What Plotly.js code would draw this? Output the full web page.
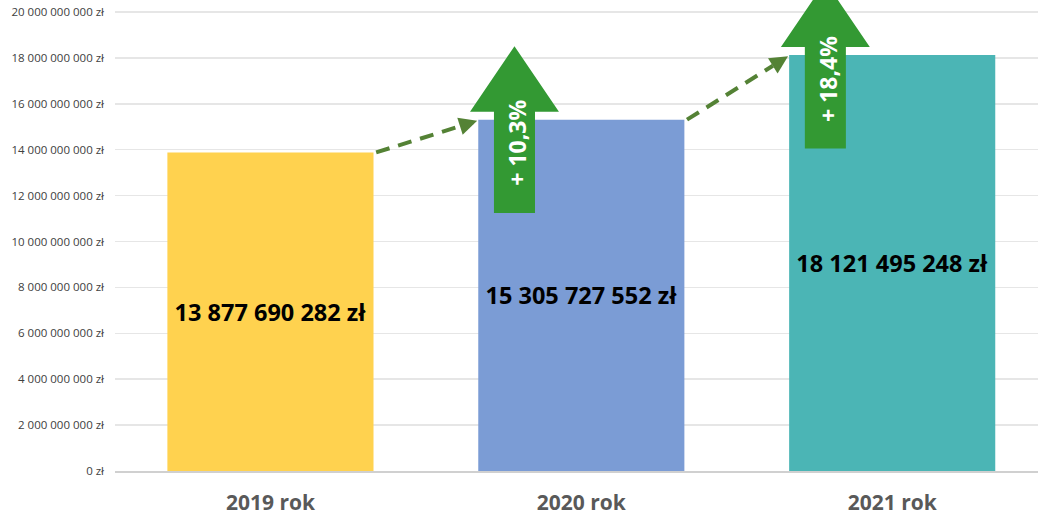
<!DOCTYPE html>
<html><head><meta charset="utf-8">
<script src="https://cdn.plot.ly/plotly-3.0.1.min.js"></script>
<style>html,body{margin:0;padding:0;background:#fff;overflow:hidden}</style>
</head><body><div id="chart" style="width:1038px;height:517px"></div>
<script>
const categories = ['2019 rok', '2020 rok', '2021 rok'];
const values = [13877690282, 15305727552, 18121495248];
const barColors = ['#FFD24F', '#7B9CD5', '#4BB5B5'];
const yTickVals = [0, 2e9, 4e9, 6e9, 8e9, 10e9, 12e9, 14e9, 16e9, 18e9, 20e9];

function fmt(n) { return String(Math.round(n)).replace(/\B(?=(\d{3})+(?!\d))/g, ' '); }

const idx = categories.map((c, i) => i);
const barText = values.map(v => '<b>' + fmt(v) + ' zł</b>');
const yTickText = yTickVals.map(v => fmt(v) + ' zł');

const GREEN = '#339933';
const DASH = '#548235';
const shapes = [];
const annotations = [];

for (let i = 1; i < values.length; i++) {
  const pct = ((values[i] / values[i - 1] - 1) * 100).toFixed(1).replace('.', ',');
  const base = values[i] + 0.35e9;
  const bottom = base - 4.42e9;
  const tip = base + 2.85e9;
  const cx = i - 0.215, sw = 0.066, hw = 0.143;
  shapes.push({
    type: 'path', xref: 'x', yref: 'y', layer: 'above',
    path: `M${cx - sw},${bottom} L${cx - sw},${base} L${cx - hw},${base} L${cx},${tip} L${cx + hw},${base} L${cx + sw},${base} L${cx + sw},${bottom} Z`,
    fillcolor: GREEN, line: {width: 0}
  });
  annotations.push({
    x: cx + 0.01, y: base - 1.37e9, xref: 'x', yref: 'y',
    text: '<b>+ ' + pct + '%</b>', textangle: -90, showarrow: false,
    font: {family: 'Open Sans, sans-serif', size: 23, color: '#ffffff'}
  });
  // dashed connector
  const x0 = i - 1 + 0.34, y0 = values[i - 1];
  const x1 = i - 0.335, y1 = values[i] - 0.05e9;
  const f = 0.85;
  const xm = x0 + (x1 - x0) * f, ym = y0 + (y1 - y0) * f;
  shapes.push({
    type: 'line', xref: 'x', yref: 'y', layer: 'above',
    x0: x0, y0: y0, x1: xm, y1: ym,
    line: {color: DASH, width: 4, dash: '14px,9px'}
  });
  annotations.push({
    x: x1, y: y1, ax: xm, ay: ym, xref: 'x', yref: 'y', axref: 'x', ayref: 'y',
    text: '', showarrow: true, arrowhead: 2, arrowsize: 0.9, arrowwidth: 4,
    arrowcolor: DASH, standoff: 0
  });
}

const data = [{
  type: 'bar', x: idx, y: values, width: 0.663,
  marker: {color: barColors},
  text: barText, textposition: 'inside', insidetextanchor: 'middle',
  textangle: 0, constraintext: 'none',
  textfont: {family: 'Open Sans, sans-serif', size: 23.5, color: '#000000'},
  hoverinfo: 'none'
}];

const layout = {
  width: 1038, height: 517,
  margin: {l: 115, r: 0, t: 0, b: 46, pad: 0},
  paper_bgcolor: '#ffffff', plot_bgcolor: '#ffffff',
  showlegend: false,
  xaxis: {
    type: 'linear', range: [-0.5, 2.469],
    tickvals: idx, ticktext: categories.map(c => '<b>' + c + '</b>'),
    tickfont: {family: 'Open Sans, sans-serif', size: 21, color: '#595959'},
    showgrid: false, zeroline: false, showline: true, linecolor: '#d0d0d0', linewidth: 1.5,
    ticks: '', ticklabelstandoff: 12, fixedrange: true
  },
  yaxis: {
    range: [0, 20.52e9], tickvals: yTickVals, ticktext: yTickText,
    tickfont: {family: 'Open Sans, sans-serif', size: 11.5, color: '#404040'},
    showgrid: true, gridcolor: '#e6e6e6', gridwidth: 1.5, zeroline: false, showline: false,
    ticks: '', ticklabelstandoff: 10, fixedrange: true
  },
  shapes: shapes,
  annotations: annotations
};

Plotly.newPlot('chart', data, layout, {displayModeBar: false, staticPlot: true});
</script>
</body></html>
